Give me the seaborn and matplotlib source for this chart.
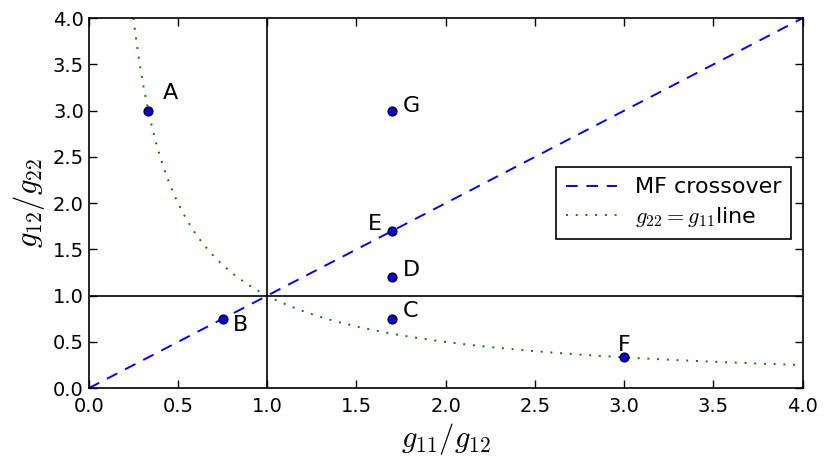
import numpy as np
import pandas as pd
import matplotlib
matplotlib.use("Agg")
import matplotlib.pyplot as plt
import seaborn as sns

# Points in the (g11/g12, g12/g22) plane
labels = ['A', 'B', 'C', 'D', 'E', 'F', 'G']
x_vals = [1/3, 0.75, 1.7, 1.7, 1.7, 3.0, 1.7]
y_vals = [3.0, 0.75, 0.75, 1.2, 1.7, 1/3, 3.0]

# label offsets (dx, dy, ha, va)
label_pos = {
    'A': (0.08, 0.08, 'left', 'bottom'),
    'B': (0.06, -0.07, 'left', 'center'),
    'C': (0.06, 0.08, 'left', 'center'),
    'D': (0.06, 0.08, 'left', 'center'),
    'E': (-0.06, 0.07, 'right', 'center'),
    'F': (0.0, 0.02, 'center', 'bottom'),
    'G': (0.06, 0.05, 'left', 'center'),
}

sns.set_style("ticks")
plt.rcParams['font.family'] = ['DejaVu Sans']
plt.rcParams['mathtext.fontset'] = 'cm'
plt.rcParams['xtick.direction'] = 'in'
plt.rcParams['ytick.direction'] = 'in'
plt.rcParams['text.color'] = 'k'
plt.rcParams['xtick.color'] = 'k'
plt.rcParams['ytick.color'] = 'k'
plt.rcParams['axes.labelcolor'] = 'k'

fig = plt.figure(figsize=(8.3, 4.66), dpi=100)
ax = fig.add_axes([0.107, 0.167, 0.86, 0.794])

xs = np.linspace(0, 4, 200)
cross = pd.DataFrame({'x': xs, 'y': xs})
sns.lineplot(data=cross, x='x', y='y', ax=ax, color='b', linewidth=1.4,
             label='MF crossover')
ax.lines[-1].set_dashes((6, 4.5))

xc = np.linspace(0.25, 4, 400)
curve = pd.DataFrame({'x': xc, 'y': 1 / xc})
sns.lineplot(data=curve, x='x', y='y', ax=ax, color='g', linewidth=1.4,
             label='$g_{22}=g_{11}$line')
ax.lines[-1].set_dashes((1, 4))

ax.axvline(1.0, color='k', linewidth=1.2)
ax.axhline(1.0, color='k', linewidth=1.2)

pts = pd.DataFrame({'x': x_vals, 'y': y_vals, 'label': labels})
sns.scatterplot(data=pts, x='x', y='y', ax=ax, color='b', edgecolor='k',
                s=40, linewidth=1, zorder=5, legend=False)
for _, r in pts.iterrows():
    dx, dy, ha, va = label_pos[r['label']]
    ax.text(r['x'] + dx, r['y'] + dy, r['label'], fontsize=16, ha=ha, va=va)

ax.set_xlim(0, 4)
ax.set_ylim(0, 4)
ax.set_xticks(np.arange(0, 4.01, 0.5))
ax.set_yticks(np.arange(0, 4.01, 0.5))
ax.tick_params(labelsize=14, top=True, right=True, length=6, width=1)
ax.tick_params(axis='x', pad=6)
for s in ax.spines.values():
    s.set_linewidth(1.2)
    s.set_color('k')
ax.set_xlabel('$g_{11}/g_{12}$', fontsize=22)
ax.set_ylabel('$g_{12}/g_{22}$', fontsize=22)

leg = ax.legend(loc='center right', bbox_to_anchor=(1.0, 0.5), fontsize=16,
                frameon=True, fancybox=False, handlelength=2.3,
                borderpad=0.45, labelspacing=0.35)
leg.get_frame().set_edgecolor('k')
leg.get_frame().set_linewidth(1.2)
leg.get_frame().set_alpha(1)

fig.savefig('out.png', dpi=100)
